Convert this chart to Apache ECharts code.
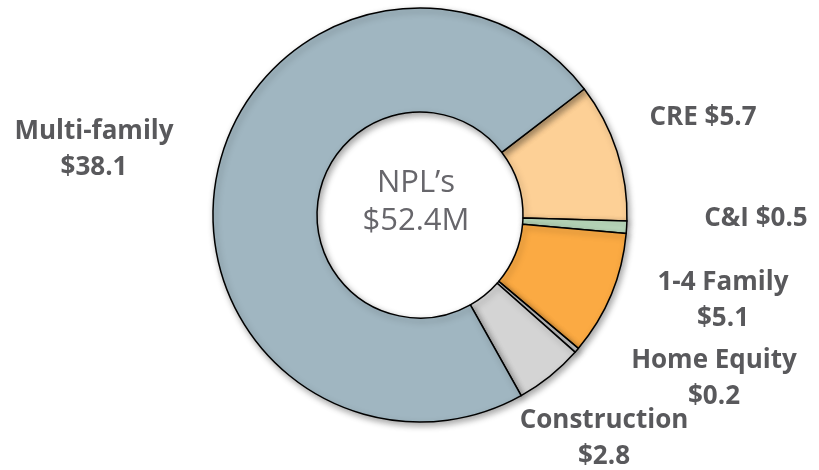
<!DOCTYPE html>
<html>
<head>
<meta charset="utf-8">
<script src="https://cdn.jsdelivr.net/npm/echarts@6/dist/echarts.min.js"></script>
<style>
  html, body { margin: 0; padding: 0; background: #fff; }
  #chart { width: 819px; height: 470px; }
</style>
</head>
<body>
<div id="chart"></div>
<script>
// NPL breakdown, $M
const categories = ['CRE', 'C&I', '1-4 Family', 'Home Equity', 'Construction', 'Multi-family'];
const values = [5.7, 0.5, 5.1, 0.2, 2.8, 38.1];
const sliceColors = ['#FDD096', '#BDDDBF', '#FBAA43', '#D6D6D6', '#D4D4D4', '#A0B6C1'];

// label text layout (line break where the reference wraps)
const labelText = ['CRE $5.7', 'C&I $0.5', '1-4 Family\n$5.1', 'Home Equity\n$0.2', 'Construction\n$2.8', 'Multi-family\n$38.1'];
const labelPos = [[703, 118], [756, 219], [723, 301], [714, 379], [604, 439], [94, 150]];

const chart = echarts.init(document.getElementById('chart'), null, { renderer: 'canvas' });

chart.setOption({
  animation: false,
  backgroundColor: '#fff',
  graphic: [{
    type: 'text',
    x: 416,
    y: 164,
    style: {
      text: 'NPL\u2019s\n$52.4M',
      align: 'center',
      fill: '#67666b',
      font: '31px "Open Sans"',
      lineHeight: 38
    },
    z: 10
  }],
  series: [{
    type: 'pie',
    center: [420, 215],
    radius: [103, 207],
    startAngle: 37.5,
    clockwise: true,
    avoidLabelOverlap: false,
    itemStyle: {
      borderColor: '#000',
      borderWidth: 1.5,
      shadowBlur: 6,
      shadowOffsetX: 2,
      shadowOffsetY: 3,
      shadowColor: 'rgba(0,0,0,0.35)'
    },
    emphasis: { disabled: true },
    label: {
      show: true,
      position: 'outside',
      fontFamily: 'Open Sans',
      fontWeight: 'bold',
      fontSize: 26,
      lineHeight: 36,
      color: '#59595c',
      align: 'center',
      formatter: (p) => labelText[p.dataIndex]
    },
    labelLine: { show: false },
    labelLayout: (p) => ({
      x: labelPos[p.dataIndex][0],
      y: labelPos[p.dataIndex][1],
      align: 'center',
      verticalAlign: 'middle'
    }),
    data: categories.map((name, i) => ({
      name: name,
      value: values[i],
      itemStyle: { color: sliceColors[i] }
    }))
  }]
});
</script>
</body>
</html>
